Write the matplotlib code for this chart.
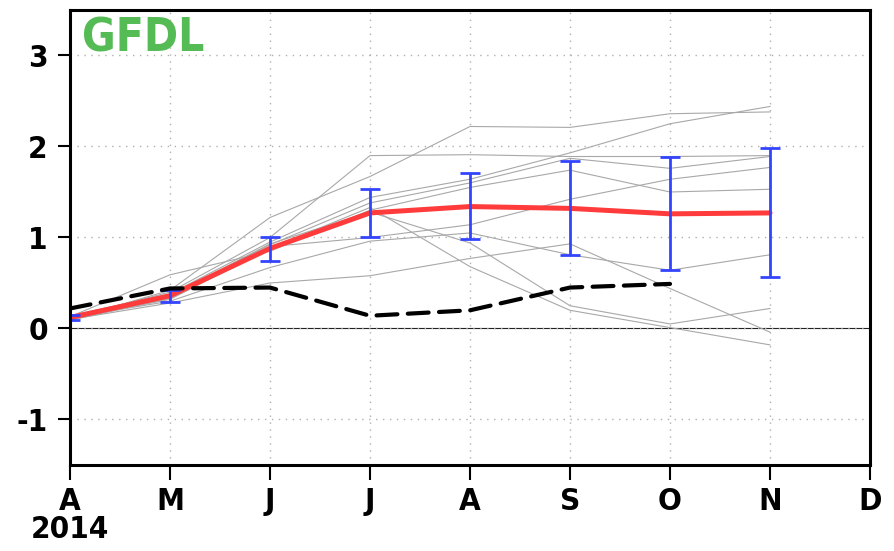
import numpy as np
import matplotlib
matplotlib.use('Agg')
import matplotlib.pyplot as plt
from matplotlib import font_manager as fm

plt.rcParams['font.family'] = ['DejaVu Sans']
plt.rcParams['axes.unicode_minus'] = False

months = ['A', 'M', 'J', 'J', 'A', 'S', 'O', 'N', 'D']
year_label = '2014'

# ensemble members (Apr..Nov)
members = [
    [0.10, 0.42, 1.22, 1.67, 2.22, 2.21, 2.36, 2.38],
    [0.12, 0.40, 1.00, 1.90, 1.91, 1.89, 1.89, 1.90],
    [0.14, 0.38, 0.95, 1.44, 1.64, 1.93, 2.25, 2.44],
    [0.11, 0.35, 0.92, 1.38, 1.60, 1.87, 1.76, 1.89],
    [0.13, 0.59, 0.85, 1.30, 1.55, 1.74, 1.50, 1.53],
    [0.09, 0.33, 0.90, 1.00, 1.14, 1.42, 1.64, 1.77],
    [0.12, 0.30, 0.67, 0.96, 1.05, 0.81, 0.64, 0.81],
    [0.10, 0.28, 0.50, 0.58, 0.77, 0.93, 0.44, -0.04],
    [0.14, 0.36, 0.93, 1.28, 0.94, 0.25, 0.05, 0.22],
    [0.11, 0.32, 0.88, 1.33, 0.68, 0.20, 0.01, -0.18],
]

ens_mean = [0.12, 0.36, 0.88, 1.27, 1.34, 1.32, 1.26, 1.27]
err_low = [0.09, 0.29, 0.74, 1.00, 0.98, 0.81, 0.64, 0.57]
err_high = [0.15, 0.42, 1.00, 1.53, 1.71, 1.84, 1.88, 1.98]

obs = [0.22, 0.44, 0.45, 0.14, 0.20, 0.45, 0.49]


def bold_font(size):
    # condensed bold if we have it, else plain bold
    for f in fm.fontManager.ttflist:
        if f.name == 'DejaVu Sans' and f.stretch == 'condensed' and f.weight in (700, 'bold'):
            return fm.FontProperties(fname=f.fname, size=size)
    for f in fm.fontManager.ttflist:
        if f.name == 'Liberation Sans Narrow' and f.weight in (700, 'bold'):
            return fm.FontProperties(fname=f.fname, size=size * 1.05)
    return fm.FontProperties(family='DejaVu Sans', weight='bold', size=size * 0.92)


fig = plt.figure(figsize=(8.94, 5.51), dpi=100)
ax = fig.add_axes([70 / 894, 1 - 465 / 551, 800 / 894, 455 / 551])

x = np.arange(len(ens_mean))
for m in members:
    ax.plot(x, m, color='#a8a8a8', lw=0.8, zorder=2)

ax.axhline(0, color='#222222', lw=0.8, zorder=1.5)

ax.plot(x, ens_mean, color='#ff3b3b', lw=3.6, zorder=3, solid_capstyle='round')

mean = np.array(ens_mean)
yerr = [mean - np.array(err_low), np.array(err_high) - mean]
ax.errorbar(x, mean, yerr=yerr, fmt='none', ecolor='#3344ff', elinewidth=2,
            capsize=7, capthick=2, zorder=4)

ax.plot(np.arange(len(obs)), obs, color='black', lw=3, dashes=(5, 2.5),
        dash_capstyle='round', zorder=5)

ax.set_xlim(0, 8)
ax.set_ylim(-1.5, 3.5)
ax.set_xticks(range(len(months)))
labels = list(months)
labels[0] = months[0] + '\n' + year_label
ax.set_xticklabels(labels, linespacing=0.95)
ax.set_yticks([-1, 0, 1, 2, 3])
ax.set_yticklabels(['-1', '0', '1', '2', '3'])

tick_font = bold_font(22.5)
for lab in ax.get_xticklabels() + ax.get_yticklabels():
    lab.set_fontproperties(tick_font)

ax.tick_params(axis='x', length=11, width=1.5, pad=5, direction='out')
ax.tick_params(axis='y', length=9, width=1.5, pad=7, direction='out')

ax.grid(True, linestyle=(0, (1, 4)), color='#b0b0b0', lw=1.0, zorder=0)

for s in ax.spines.values():
    s.set_linewidth(2.2)
    s.set_zorder(6)

ax.text(0.015, 0.985, 'GFDL', transform=ax.transAxes, color='#55bb55',
        fontproperties=bold_font(33), ha='left', va='top', zorder=7)

fig.savefig('out.png', dpi=100)
